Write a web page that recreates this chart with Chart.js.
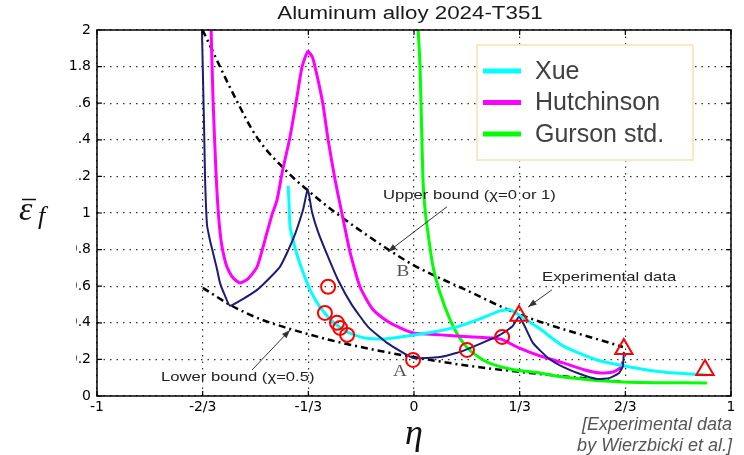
<!DOCTYPE html>
<html><head><meta charset="utf-8">
<script src="https://cdn.jsdelivr.net/npm/chart.js@4.4.0/dist/chart.umd.min.js"></script>
<style>html,body{margin:0;padding:0;background:#fff}#wrap{width:744px;height:455px;position:relative}</style>
</head><body><div id="wrap"><canvas id="c" width="744" height="455"></canvas></div>
<script>
// ---- axis ticks ----
const xTickValues = [-1, -2/3, -1/3, 0, 1/3, 2/3, 1];
const xTickLabels = ['-1', '-2/3', '-1/3', '0', '1/3', '2/3', '1'];
const yTickValues = [0, 0.2, 0.4, 0.6, 0.8, 1, 1.2, 1.4, 1.6, 1.8, 2];
const yTickLabels = ['0', '0.2', '0.4', '0.6', '0.8', '1', '1.2', '1.4', '1.6', '1.8', '2'];

// ---- series (eta, eps_f) ----
const xueEta = [-0.397,-0.394,-0.391,-0.382,-0.369,-0.353,-0.328,-0.297,-0.256,-0.211,-0.155,-0.091,-0.022,0.060,0.136,0.208,0.271,0.303,0.331,0.397,0.470,0.577,0.681,0.785,0.924];
const xueEps = [1.149,1.045,0.925,0.854,0.772,0.690,0.580,0.487,0.405,0.350,0.317,0.312,0.328,0.350,0.378,0.421,0.465,0.471,0.443,0.367,0.274,0.197,0.159,0.131,0.115];

const hutchEta = [-0.640,-0.634,-0.625,-0.618,-0.609,-0.599,-0.590,-0.571,-0.549,-0.524,-0.495,-0.464,-0.448,-0.432,-0.416,-0.391,-0.369,-0.353,-0.335,-0.320,-0.303,-0.287,-0.271,-0.249,-0.233,-0.218,-0.202,-0.170,-0.129,-0.076,-0.003,0.082,0.186,0.271,0.331,0.397,0.470,0.539,0.587,0.628,0.650,0.659];
const hutchEps = [2.0,1.620,1.237,1.018,0.854,0.760,0.706,0.646,0.618,0.640,0.706,0.892,0.990,1.072,1.220,1.417,1.636,1.800,1.882,1.850,1.729,1.592,1.401,1.182,1.045,0.919,0.788,0.596,0.471,0.400,0.345,0.334,0.323,0.312,0.263,0.219,0.181,0.142,0.126,0.131,0.153,0.186];

const gursonEta = [0.013,0.019,0.022,0.025,0.028,0.035,0.044,0.060,0.082,0.114,0.155,0.218,0.303,0.397,0.470,0.659,0.924];
const gursonEps = [2.0,1.800,1.603,1.401,1.198,1.018,0.892,0.706,0.564,0.416,0.290,0.197,0.148,0.126,0.104,0.077,0.071];

const modelEta = [-0.669,-0.662,-0.659,-0.653,-0.644,-0.634,-0.621,-0.612,-0.596,-0.580,-0.495,-0.423,-0.382,-0.350,-0.335,-0.322,-0.303,-0.274,-0.240,-0.196,-0.145,-0.085,-0.003,0.082,0.145,0.208,0.271,0.309,0.331,0.347,0.375,0.423,0.470,0.524,0.577,0.618,0.647,0.659,0.662];
const modelEps = [2.0,1.456,1.182,0.936,0.854,0.783,0.690,0.618,0.547,0.493,0.580,0.706,0.854,1.018,1.13,1.007,0.898,0.772,0.635,0.498,0.378,0.290,0.208,0.213,0.241,0.285,0.334,0.378,0.432,0.389,0.290,0.208,0.159,0.120,0.093,0.099,0.126,0.164,0.241];

const upperEta = [-0.667,-0.558,-0.495,-0.391,-0.338,-0.243,-0.085,-0.003,0.177,0.328,0.659];
const upperEps = [2.0,1.609,1.412,1.210,1.128,0.996,0.805,0.717,0.569,0.449,0.268];

const lowerEta = [-0.666,-0.580,-0.486,-0.391,-0.265,-0.139,-0.003,0.177,0.366,0.659];
const lowerEps = [0.591,0.498,0.421,0.367,0.306,0.257,0.213,0.164,0.126,0.077];

const circEta = [-0.271,-0.281,-0.243,-0.233,-0.211,-0.003,0.167,0.278];
const circEps = [0.597,0.454,0.400,0.372,0.334,0.197,0.252,0.323];
const triEta = [0.331,0.662,0.918];
const triEps = [0.438,0.257,0.142];

const pts = (xs, ys) => xs.map((x, i) => ({x: x, y: ys[i]}));

// ---- plugins ----
const SX = 1.28;
function stretchedText(ctx, txt, x, y, font, color, align, sx) {
  ctx.save();
  ctx.translate(x, y);
  ctx.scale(sx, 1);
  ctx.font = font; ctx.fillStyle = color;
  ctx.textAlign = align || 'left'; ctx.textBaseline = 'middle';
  ctx.fillText(txt, 0, 0);
  ctx.restore();
}
function arrow(ctx, x1, y1, x2, y2) {
  ctx.save();
  ctx.strokeStyle = '#333'; ctx.fillStyle = '#333'; ctx.lineWidth = 1;
  ctx.beginPath(); ctx.moveTo(x1, y1); ctx.lineTo(x2, y2); ctx.stroke();
  const a = Math.atan2(y2 - y1, x2 - x1), L = 9, W = 0.35;
  ctx.beginPath(); ctx.moveTo(x2, y2);
  ctx.lineTo(x2 - L * Math.cos(a - W), y2 - L * Math.sin(a - W));
  ctx.lineTo(x2 - L * Math.cos(a + W), y2 - L * Math.sin(a + W));
  ctx.closePath(); ctx.fill();
  ctx.restore();
}

const decor = {
  id: 'decor',
  afterDraw(chart) {
    const ctx = chart.ctx, a = chart.chartArea;
    const xs = chart.scales.x, ys = chart.scales.y;
    const px = v => xs.getPixelForValue(v), py = v => ys.getPixelForValue(v);
    // mask (cropped left part of tick labels in the original)
    ctx.save(); ctx.fillStyle = '#fff'; ctx.fillRect(48, 84, 28, 304); ctx.restore();
    // box
    ctx.save(); ctx.strokeStyle = '#000'; ctx.lineWidth = 1.5;
    ctx.strokeRect(a.left, a.top, a.right - a.left, a.bottom - a.top);
    // inward ticks
    ctx.lineWidth = 1.2; ctx.beginPath();
    xs.ticks.forEach(t => { const x = px(t.value); ctx.moveTo(x, a.bottom); ctx.lineTo(x, a.bottom - 5); ctx.moveTo(x, a.top); ctx.lineTo(x, a.top + 5); });
    ys.ticks.forEach(t => { const y = py(t.value); ctx.moveTo(a.left, y); ctx.lineTo(a.left + 5, y); ctx.moveTo(a.right, y); ctx.lineTo(a.right - 5, y); });
    ctx.stroke(); ctx.restore();
    // title
    stretchedText(ctx, 'Aluminum alloy 2024-T351', (a.left + a.right) / 2 - 4, 14, '18px "Liberation Sans", Arial, sans-serif', '#1a1a1a', 'center', 1.24);
    // annotations
    const af = '13px "Liberation Sans", Arial, sans-serif';
    stretchedText(ctx, 'Upper bound (\u03c7=0 or 1)', px(-0.098), py(1.095), af, '#222', 'left', SX);
    stretchedText(ctx, 'Lower bound (\u03c7=0.5)', px(-0.798), py(0.099), af, '#222', 'left', SX);
    stretchedText(ctx, 'Experimental data', px(0.404), py(0.646), af, '#222', 'left', SX);
    stretchedText(ctx, 'B', px(-0.035), py(0.679), '16px "Liberation Serif", serif', '#555', 'center', 1.2);
    stretchedText(ctx, 'A', px(-0.044), py(0.131), '16px "Liberation Serif", serif', '#555', 'center', 1.2);
    arrow(ctx, px(0.104), py(1.034), px(-0.082), py(0.788));
    arrow(ctx, px(-0.511), py(0.142), px(-0.391), py(0.361));
    arrow(ctx, px(0.435), py(0.580), px(0.360), py(0.487));
    // legend
    const lx = 477, ly = 45, lw = 216, lh = 115;
    ctx.save();
    ctx.fillStyle = '#fff'; ctx.fillRect(lx, ly, lw, lh);
    ctx.strokeStyle = '#fde6c4'; ctx.lineWidth = 2; ctx.strokeRect(lx, ly, lw, lh);
    const items = chart.data.datasets.filter(d => d.inLegend);
    items.forEach((d, i) => {
      const y = 71 + i * 31.5;
      ctx.strokeStyle = d.borderColor; ctx.lineWidth = 5;
      ctx.beginPath(); ctx.moveTo(483, y); ctx.lineTo(521, y); ctx.stroke();
      ctx.fillStyle = '#404040'; ctx.font = '25px "Liberation Sans", Arial, sans-serif';
      ctx.textAlign = 'left'; ctx.textBaseline = 'middle';
      ctx.fillText(d.label, 535, y + 1);
    });
    ctx.restore();
    // axis labels
    ctx.save();
    ctx.fillStyle = '#111';
    ctx.font = 'italic 34px "Liberation Serif", serif'; ctx.textBaseline = 'alphabetic'; ctx.textAlign = 'left';
    ctx.fillText('\u03b5', 19, 220);
    ctx.strokeStyle = '#111'; ctx.lineWidth = 1.5; ctx.beginPath(); ctx.moveTo(22, 199.5); ctx.lineTo(36, 199.5); ctx.stroke();
    ctx.font = 'italic 26px "Liberation Serif", serif';
    ctx.fillText('f', 38, 224);
    ctx.font = 'italic 36px "Liberation Serif", serif'; ctx.textAlign = 'center';
    ctx.fillText('\u03b7', px(0), 444);
    ctx.font = 'italic 18px "Liberation Sans", Arial, sans-serif'; ctx.textAlign = 'right'; ctx.fillStyle = '#555';
    ctx.textBaseline = 'middle';
    ctx.fillText('[Experimental data', 732, 425);
    ctx.fillText('by Wierzbicki et al.]', 732, 446);
    ctx.restore();
  }
};

const lineDs = (label, xs, ys, color, width, order, extra) => Object.assign({
  label, data: pts(xs, ys), showLine: true, borderColor: color, backgroundColor: color,
  borderWidth: width, pointRadius: 0, tension: 0.2, order
}, extra || {});
const mono = {cubicInterpolationMode: 'monotone'};

new Chart(document.getElementById('c'), {
  type: 'scatter',
  data: {
    datasets: [
      {label: 'circles', data: pts(circEta, circEps), pointStyle: 'circle', pointRadius: 7, borderColor: '#ff0000', backgroundColor: 'rgba(0,0,0,0)', borderWidth: 2, order: 0},
      {label: 'triangles', data: pts(triEta, triEps), pointStyle: 'triangle', pointRadius: 10, borderColor: '#ff0000', backgroundColor: 'rgba(0,0,0,0)', borderWidth: 2, order: 0},
      lineDs('Model', modelEta, modelEps, '#1c1c78', 2, 1, {tension: 0.15}),
      lineDs('Xue', xueEta, xueEps, '#00ffff', 3, 2, {inLegend: true}),
      lineDs('Hutchinson', hutchEta, hutchEps, '#ff00ff', 3, 3, {inLegend: true}),
      lineDs('Gurson std.', gursonEta, gursonEps, '#00ff00', 3, 4, Object.assign({inLegend: true}, mono)),
      lineDs('Upper bound', upperEta, upperEps, '#000', 2.5, 5, Object.assign({borderDash: [7, 4, 2, 4]}, mono)),
      lineDs('Lower bound', lowerEta, lowerEps, '#000', 2.5, 5, Object.assign({borderDash: [7, 4, 2, 4]}, mono))
    ]
  },
  options: {
    responsive: false, animation: false, devicePixelRatio: 1,
    layout: {padding: {top: 30, right: 13, left: 0, bottom: 0}},
    plugins: {legend: {display: false}, title: {display: false}, tooltip: {enabled: false}},
    scales: {
      x: {
        type: 'linear', min: -1, max: 1,
        afterBuildTicks: s => { s.ticks = xTickValues.map(v => ({value: v})); },
        afterFit: s => { s.height = 59; },
        ticks: {callback: (v, i) => xTickLabels[i], font: {family: '"DejaVu Sans", sans-serif', size: 14}, color: '#000', padding: 3, maxRotation: 0, autoSkip: false},
        grid: {color: '#333', lineWidth: 1.2, drawTicks: false},
        border: {display: false, dash: [1.5, 5]}
      },
      y: {
        type: 'linear', min: 0, max: 2,
        afterBuildTicks: s => { s.ticks = yTickValues.map(v => ({value: v})); },
        afterFit: s => { s.width = 97; },
        ticks: {callback: (v, i) => yTickLabels[i], font: {family: '"DejaVu Sans", sans-serif', size: 14}, color: '#000', padding: 6, autoSkip: false},
        grid: {color: '#333', lineWidth: 1.2, drawTicks: false},
        border: {display: false, dash: [1.5, 5]}
      }
    }
  },
  plugins: [decor]
});
</script></body></html>
